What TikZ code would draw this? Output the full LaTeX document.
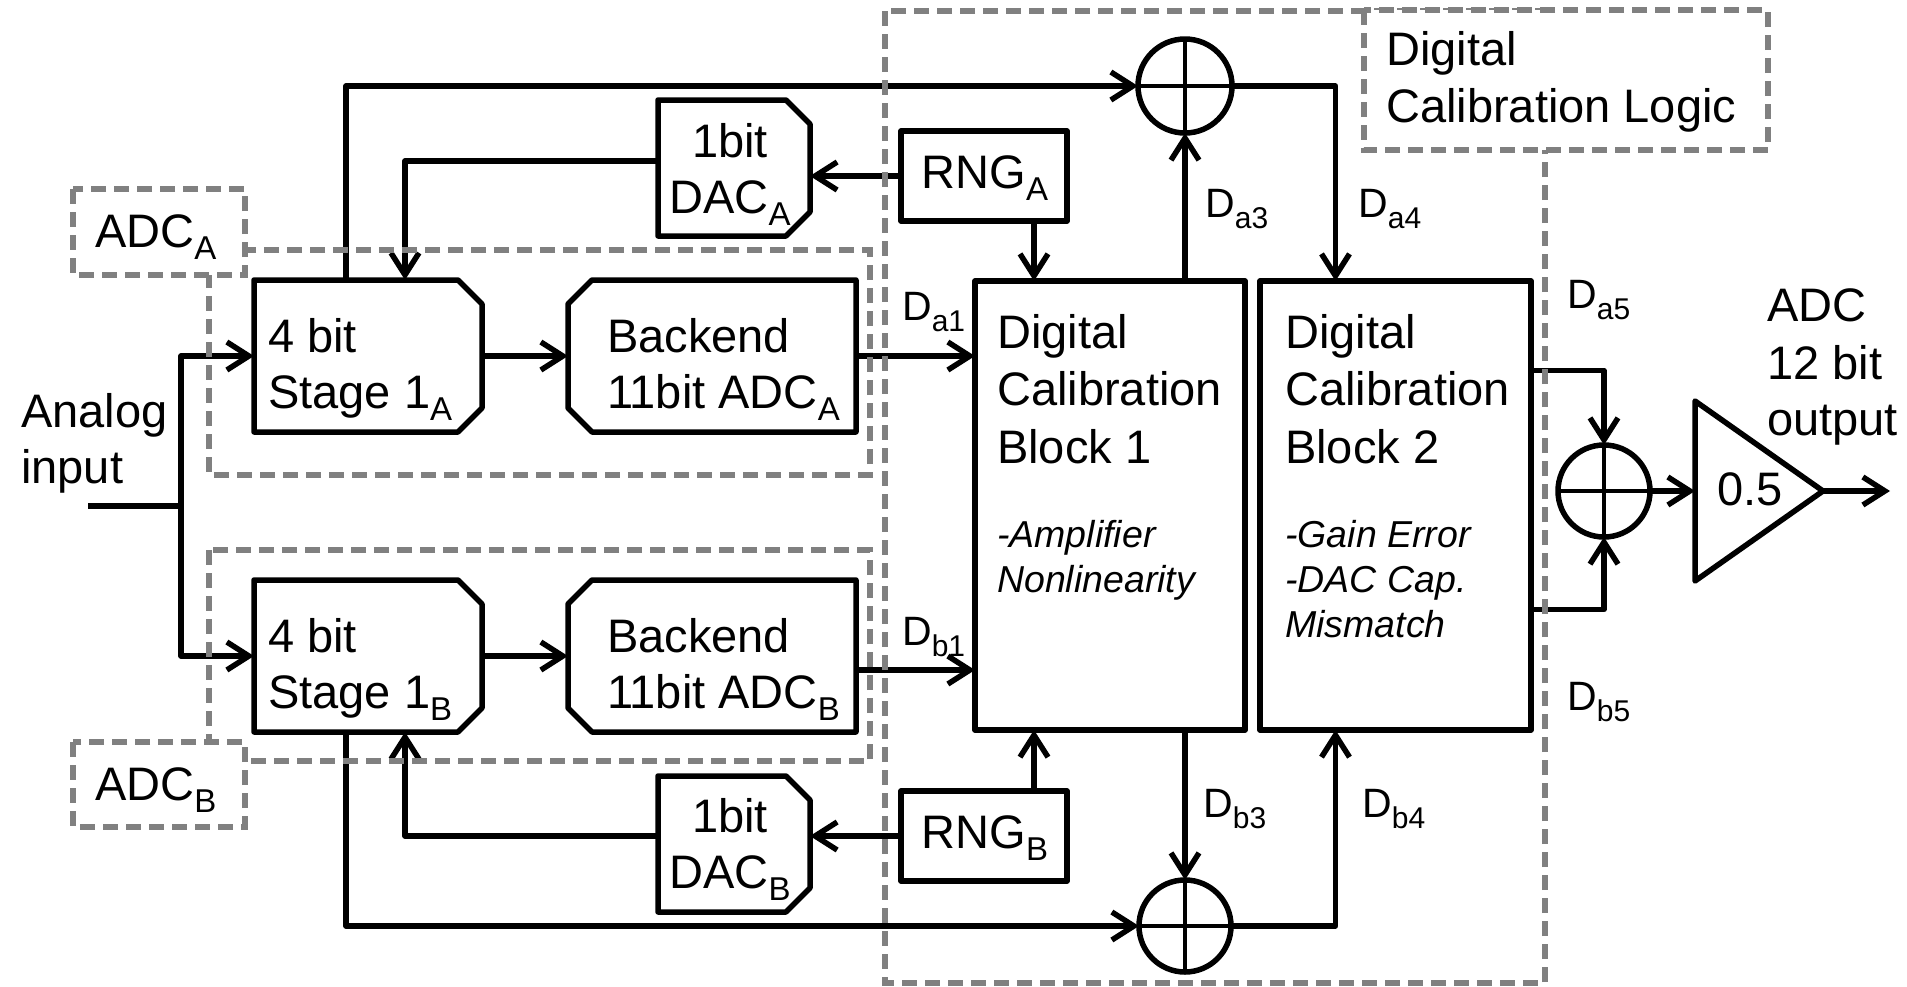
\documentclass[tikz,border=0pt]{standalone}
\usepackage{fontspec}
\setmainfont{Liberation Sans}
\usetikzlibrary{arrows.meta,calc}
\definecolor{dashgray}{RGB}{128,128,128}
\newcommand{\mysubA}[1]{\raisebox{-12pt}{\fontsize{33}{33}\selectfont #1}}
\newcommand{\mysubD}[1]{\raisebox{-11pt}{\fontsize{30}{30}\selectfont #1}}
\newcommand{\mainfs}{\fontsize{47}{56}\selectfont}
\newcommand{\dfs}{\fontsize{41}{48}\selectfont}
\newcommand{\itfs}{\fontsize{37.5}{45}\selectfont\itshape}
\newcommand{\chamR}[1]{\draw[wire] (#1.north west) -- ($(#1.north east)+(-24,0)$) -- ($(#1.north east)+(0,24)$) -- ($(#1.south east)+(0,-24)$) -- ($(#1.south east)+(-24,0)$) -- (#1.south west) -- cycle;}
\newcommand{\chamL}[1]{\draw[wire] (#1.north east) -- ($(#1.north west)+(24,0)$) -- ($(#1.north west)+(0,24)$) -- ($(#1.south west)+(0,-24)$) -- ($(#1.south west)+(24,0)$) -- (#1.south east) -- cycle;}
\begin{document}
\begin{tikzpicture}[x=1pt,y=-1pt,
  wire/.style={line width=5.5pt, line join=round, draw=black},
  arr/.style={wire, -{Straight Barb[length=22pt,width=28pt]}},
  region/.style={line width=6pt, draw=dashgray, dash pattern=on 15pt off 8pt},
  anch/.style={rectangle, inner sep=0pt, outer sep=0pt, draw=none},
  blk/.style={rectangle, inner sep=0pt, outer sep=0pt, draw, line width=5.5pt, line join=round},
  sum/.style={circle, inner sep=0pt, outer sep=0pt, minimum size=92pt, draw, line width=5.5pt},
  txt/.style={inner sep=0pt, anchor=base west, font=\mainfs},
  ctxt/.style={inner sep=0pt, anchor=base, font=\mainfs},
  itxt/.style={inner sep=0pt, anchor=base west, font=\itfs},
  dl/.style={inner sep=0pt, anchor=base west, font=\dfs},
  cross/.style={line width=4pt}
]
\useasboundingbox (0,0) rectangle (1907,986);

% ---------- blocks ----------
\node[anch, minimum width=228pt, minimum height=152pt] (s1a) at (368,356) {};
\node[anch, minimum width=228pt, minimum height=152pt] (s1b) at (368,656) {};
\node[anch, minimum width=288pt, minimum height=152pt] (bka) at (712,356) {};
\node[anch, minimum width=288pt, minimum height=152pt] (bkb) at (712,656) {};
\node[anch, minimum width=152pt, minimum height=136pt] (daca) at (734,168) {};
\node[anch, minimum width=152pt, minimum height=136pt] (dacb) at (734,844) {};
\node[blk, minimum width=166pt, minimum height=90pt] (rnga) at (984,176) {};
\node[blk, minimum width=166pt, minimum height=90pt] (rngb) at (984,836) {};
\node[blk, minimum width=270pt, minimum height=449pt] (b1) at (1110,505.5) {};
\node[blk, minimum width=271pt, minimum height=449pt] (b2) at (1395.5,505.5) {};
\node[sum, minimum size=94pt] (sa) at (1185,86) {};
\node[sum] (sb) at (1185,926) {};
\node[sum] (sc) at (1604,491) {};

\chamR{s1a}
\chamR{s1b}
\chamL{bka}
\chamL{bkb}
\chamR{daca}
\chamR{dacb}

\draw[cross] (sa.north) -- (sa.south) (sa.west) -- (sa.east);
\draw[cross] (sb.north) -- (sb.south) (sb.west) -- (sb.east);
\draw[cross] (sc.north) -- (sc.south) (sc.west) -- (sc.east);

% amplifier
\coordinate (ai) at (1695,491);
\coordinate (ao) at (1823,491);
\coordinate (oe) at (1890,491);
\draw[wire] ($(ai)+(0,-90)$) -- (ao) -- ($(ai)+(0,90)$) -- cycle;

% ---------- connectors ----------
\coordinate (inp) at (88,506);
\coordinate (spl) at (181,506);
\draw[wire] (inp) -- (spl);
\draw[arr] (spl) |- (s1a.west);
\draw[arr] (spl) |- (s1b.west);

\draw[arr] (s1a.east) -- (bka.west);
\draw[arr] (s1b.east) -- (bkb.west);
\draw[arr] (bka.east) -- (bka.east -| b1.west);
\coordinate (bko) at ($(bkb.east)+(0,14)$);
\draw[arr] (bko) -- (bko -| b1.west);

\coordinate (s1at) at ($(s1a.north west)+(92,0)$);
\coordinate (s1bb) at ($(s1b.south west)+(92,0)$);
\draw[arr] (s1at) |- (sa.west);
\draw[arr] (s1bb) |- (sb.west);

\coordinate (daco) at ($(daca.west)+(0,-7)$);
\coordinate (dbco) at ($(dacb.west)+(0,-8)$);
\coordinate (s1afb) at ($(s1a.north west)+(151,0)$);
\coordinate (s1bfb) at ($(s1b.south west)+(151,0)$);
\draw[arr] (daco) -| (s1afb);
\draw[arr] (dbco) -| (s1bfb);
\draw[arr] (rnga.west) -- (rnga.west -| daca.east);
\draw[arr] (rngb.west) -- (rngb.west -| dacb.east);

\coordinate (ra) at ($(rnga.south)+(50,0)$);
\coordinate (rb) at ($(rngb.north)+(50,0)$);
\draw[arr] (ra) -- (ra |- b1.north);
\draw[arr] (rb) -- (rb |- b1.south);

\draw[arr] (sa.south |- b1.north) -- (sa.south);
\draw[arr] (sb.north |- b1.south) -- (sb.north);
\coordinate (b2a) at ($(b2.north)+(-60,0)$);
\coordinate (b2b) at ($(b2.south)+(-60,0)$);
\draw[arr] (sa.east) -| (b2a);
\draw[arr] (sb.east) -| (b2b);

\coordinate (b2o1) at ($(b2.east)+(0,-135)$);
\coordinate (b2o2) at ($(b2.east)+(0,104)$);
\draw[arr] (b2o1) -| (sc.north);
\draw[arr] (b2o2) -| (sc.south);
\draw[arr] (sc.east) -- (ai);
\draw[arr] (ao) -- (oe);

% ---------- dashed regions ----------
\draw[region] (209,250) rectangle (870,475);
\draw[region] (209,550) rectangle (870,761);
\draw[region] (885,11) rectangle (1545,983);
\draw[region, fill=white] (73,189) rectangle (245,275);
\draw[region, fill=white] (73,742) rectangle (245,827);
\draw[region, fill=white] (1364,10) rectangle (1768,150);

% ---------- texts ----------
\node[txt] (tadca) at (95,247) {ADC\mysubA{A}};
\node[txt] (tadcb) at (95,800) {ADC\mysubA{B}};
\node[txt] (tdcl1) at (1386,65) {Digital};
\node[txt] (tdcl2) at (1386,122) {Calibration Logic};

\node[txt] (tan1) at (21,427) {Analog};
\node[txt] (tan2) at (21,483) {input};

\node[txt] (ts1a1) at (268,352) {4 bit};
\node[txt] (ts1a2) at (268,408) {Stage 1\mysubA{A}};
\node[txt] (ts1b1) at (268,652) {4 bit};
\node[txt] (ts1b2) at (268,708) {Stage 1\mysubA{B}};

\node[txt] (tbka1) at (607,352) {Backend};
\node[txt] (tbka2) at (607,408) {11bit ADC\mysubA{A}};
\node[txt] (tbkb1) at (607,652) {Backend};
\node[txt] (tbkb2) at (607,708) {11bit ADC\mysubA{B}};

\node[ctxt] (tdaca1) at (730,157) {1bit};
\node[ctxt] (tdaca2) at (730,213) {DAC\mysubA{A}};
\node[ctxt] (tdacb1) at (730,832) {1bit};
\node[ctxt] (tdacb2) at (730,888) {DAC\mysubA{B}};

\node[ctxt] (trnga) at (985,188) {RNG\mysubA{A}};
\node[ctxt] (trngb) at (985,848) {RNG\mysubA{B}};

\node[txt] (tb11) at (997,348) {Digital};
\node[txt] (tb12) at (997,405) {Calibration};
\node[txt] (tb13) at (997,463) {Block 1};
\node[itxt] (tb14) at (997,547) {-Amplifier};
\node[itxt] (tb15) at (997,592) {Nonlinearity};

\node[txt] (tb21) at (1285,348) {Digital};
\node[txt] (tb22) at (1285,405) {Calibration};
\node[txt] (tb23) at (1285,463) {Block 2};
\node[itxt] (tb24) at (1285,547) {-Gain Error};
\node[itxt] (tb25) at (1285,592) {-DAC Cap.};
\node[itxt] (tb26) at (1285,637) {Mismatch};

\node[txt] (tamp) at (1717,505) {0.5};
\node[txt] (tout1) at (1767,321) {ADC};
\node[txt] (tout2) at (1767,379) {12 bit};
\node[txt] (tout3) at (1767,435) {output};

\node[dl] (lda1) at (902,320) {D\mysubD{a1}};
\node[dl] (ldb1) at (902,645) {D\mysubD{b1}};
\node[dl] (lda3) at (1205,217) {D\mysubD{a3}};
\node[dl] (lda4) at (1358,217) {D\mysubD{a4}};
\node[dl] (ldb3) at (1203,817) {D\mysubD{b3}};
\node[dl] (ldb4) at (1362,817) {D\mysubD{b4}};
\node[dl] (lda5) at (1567,308) {D\mysubD{a5}};
\node[dl] (ldb5) at (1567,710) {D\mysubD{b5}};
\end{tikzpicture}
\end{document}
